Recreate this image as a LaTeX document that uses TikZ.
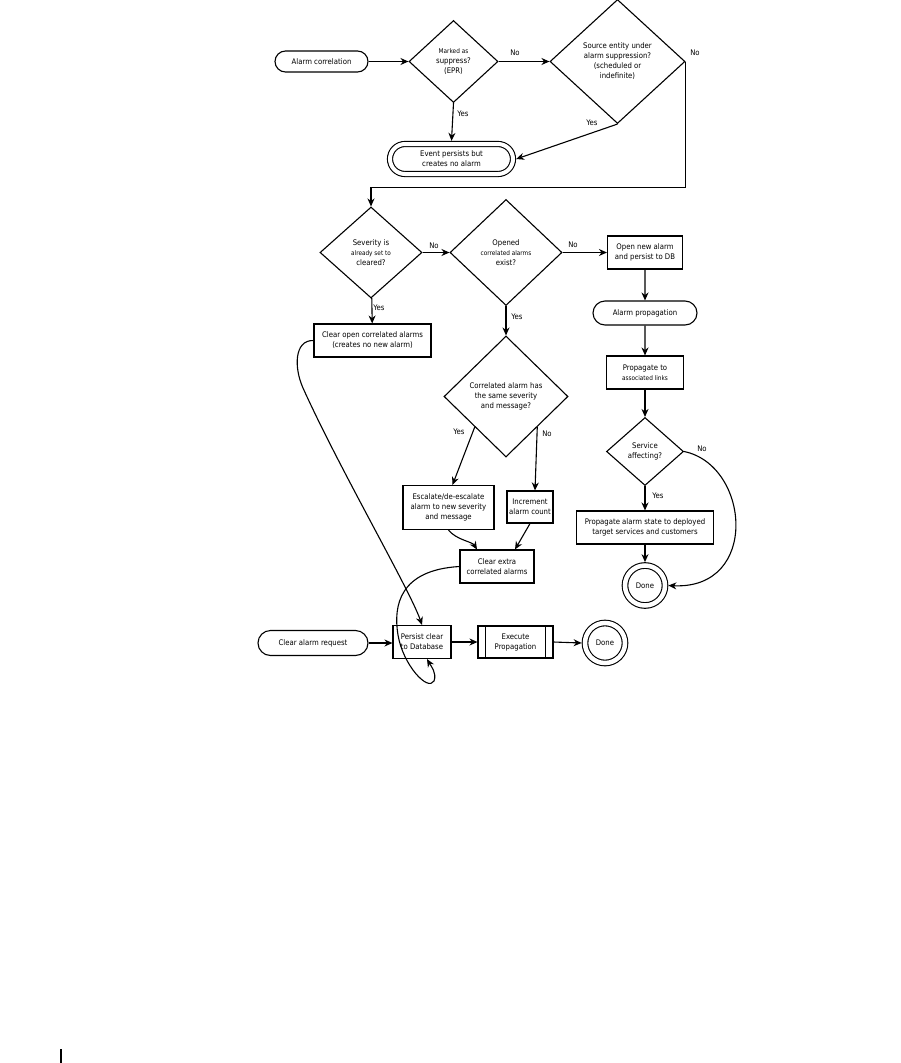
\documentclass[tikz,border=0pt]{standalone}
\usepackage{fontspec}
\setmainfont{DejaVu Sans}[FakeStretch=0.9]
\usetikzlibrary{shapes.geometric,shapes.misc,arrows.meta,calc}
\newcommand\smtxt{\fontsize{6.4}{10}\selectfont}
\tikzset{
  ln/.style={line width=1.1pt},
  arr/.style={line width=1.1pt,-{Stealth[length=8pt,width=7pt]}},
  term/.style={rounded rectangle,draw,line width=1.1pt,align=center,inner sep=0pt},
  box/.style={rectangle,draw,line width=1.1pt,align=center,inner sep=0pt},
  dec/.style={diamond,draw,line width=1.1pt,align=center,inner sep=0pt},
  donec/.style={circle,draw,line width=1.1pt,double,double distance=4.5pt,minimum size=40pt,inner sep=0pt,outer sep=3.4pt},
  lbl/.style={inner sep=0pt}
}
\begin{document}
\begin{tikzpicture}[x=1pt,y=-1pt,font=\fontsize{7.7}{10}\selectfont]
\useasboundingbox (0,0) rectangle (900,1063);
\fill[white] (0,0) rectangle (900,1063);

% row 1
\node[term,minimum width=93pt,minimum height=21pt] (ac) at (321.5,61.5) {Alarm correlation};
\node[dec,minimum width=89pt,minimum height=82pt] (d1) at (453.5,61.5) {{\smtxt Marked as}\\suppress?\\(EPR)};
\node[dec,minimum width=135pt,minimum height=124pt] (d2) at (617.5,61.5) {Source entity under\\alarm suppression?\\(scheduled or\\indefinite)};
\node[term,double,double distance=4pt,minimum width=123pt,minimum height=30pt,outer sep=3.2pt] (ev) at (451.5,159) {Event persists but\\creates no alarm};

% row 2
\node[dec,minimum width=102pt,minimum height=91pt] (d3) at (371,252.5) {Severity is\\{\smtxt already set to}\\cleared?};
\node[dec,minimum width=112pt,minimum height=106pt] (d4) at (506,252.5) {Opened\\{\smtxt correlated alarms}\\exist?};
\node[box,minimum width=75pt,minimum height=33pt] (on) at (645,252.5) {Open new alarm\\and persist to DB};
\node[term,minimum width=104pt,minimum height=24pt] (ap) at (645,313) {Alarm propagation};
\node[box,minimum width=77pt,minimum height=33pt] (pt) at (645,372.5) {Propagate to\\{\smtxt associated links}};
\node[dec,minimum width=77pt,minimum height=68pt] (d5) at (645,451.5) {Service\\affecting?};
\node[box,minimum width=137pt,minimum height=33pt] (ps) at (645,527.5) {Propagate alarm state to deployed\\target services and customers};
\node[donec] (dn1) at (645,585.5) {Done};

\node[box,minimum width=117pt,minimum height=33pt] (co) at (372.5,340.5) {Clear open correlated alarms\\(creates no new alarm)};
\node[dec,minimum width=124pt,minimum height=121pt] (d6) at (506,396.5) {Correlated alarm has\\the same severity\\and message?};
\node[box,minimum width=91pt,minimum height=44pt] (es) at (448.5,507.5) {Escalate/de-escalate\\alarm to new severity\\and message};
\node[box,minimum width=46pt,minimum height=32pt] (inc) at (530,507) {Increment\\alarm count};
\node[box,minimum width=74pt,minimum height=33pt] (ce) at (497,566.5) {Clear extra\\correlated alarms};

% bottom row
\node[term,minimum width=110pt,minimum height=25pt] (car) at (313,643) {Clear alarm request};
\node[box,minimum width=58pt,minimum height=33pt] (pc) at (422,642) {Persist clear\\to Database};
\node[box,minimum width=75pt,minimum height=32pt] (ex) at (515.5,642) {Execute\\Propagation};
\draw[ln] ([xshift=8pt]ex.north west) -- ([xshift=8pt]ex.south west);
\draw[ln] ([xshift=-8pt]ex.north east) -- ([xshift=-8pt]ex.south east);
\node[donec] (dn2) at (605,643) {Done};

% labels
\node[lbl] at (515,53) {No};
\node[lbl] at (695,53) {No};
\node[lbl] at (592,123) {Yes};
\node[lbl] at (463,114) {Yes};
\node[lbl] at (434,246) {No};
\node[lbl] at (573,245) {No};
\node[lbl] at (379,308) {Yes};
\node[lbl] at (517,317) {Yes};
\node[lbl] at (459,432) {Yes};
\node[lbl] at (547,434) {No};
\node[lbl] at (702,449) {No};
\node[lbl] at (658,496) {Yes};

% connectors
\draw[arr] (ac.east) -- (d1.west);
\draw[arr] (d1.east) -- (d2.west);
\draw[arr] (d1.south) -- (ev.north);
\draw[arr] (d2.south) -- (ev.east);
\draw[arr] (d2.east) -- ++(0,126) -| (d3.north);
\draw[arr] (d3.east) -- (d4.west);
\draw[arr] (d4.east) -- (on.west);
\draw[arr] (on) -- (ap);
\draw[arr] (ap) -- (pt);
\draw[arr] (pt) -- (d5);
\draw[arr] (d5) -- (ps);
\draw[arr] (ps) -- (dn1);
\draw[arr] (d5.east) .. controls (750,465) and (760,590) .. (dn1.east);
\draw[arr] (d3) -- (co);
\draw[arr] (d4) -- (d6);
\draw[arr] (d6.south west) -- ([xshift=4pt]es.north);
\draw[arr] (d6.south east) -- ([xshift=5pt]inc.north);
\draw[arr] (es.south) .. controls +(8,10) and +(-5,-8) .. ([xshift=-20pt]ce.north);
\draw[arr] (inc.south) -- ([xshift=18pt]ce.north);
\draw[arr] (co.west) .. controls (294,340) and (294,368) .. (303,388) .. controls (340,470) and (410,590) .. (pc.north);
\draw[arr] (ce.west) .. controls (400,570) and (393,605) .. (398,635) .. controls (403,665) and (428,692) .. (434,681) .. controls (437,673) and (431,666) .. ([xshift=5pt]pc.south);
\draw[arr] (car.east) -- (car.east -| pc.west);
\draw[arr] (pc.east) -- (pc.east -| ex.west);
\draw[arr] (ex.east) -- (dn2.west);

% stray mark at bottom left
\draw[line width=1.2pt] (61,1049) -- (61,1063);
\end{tikzpicture}
\end{document}
